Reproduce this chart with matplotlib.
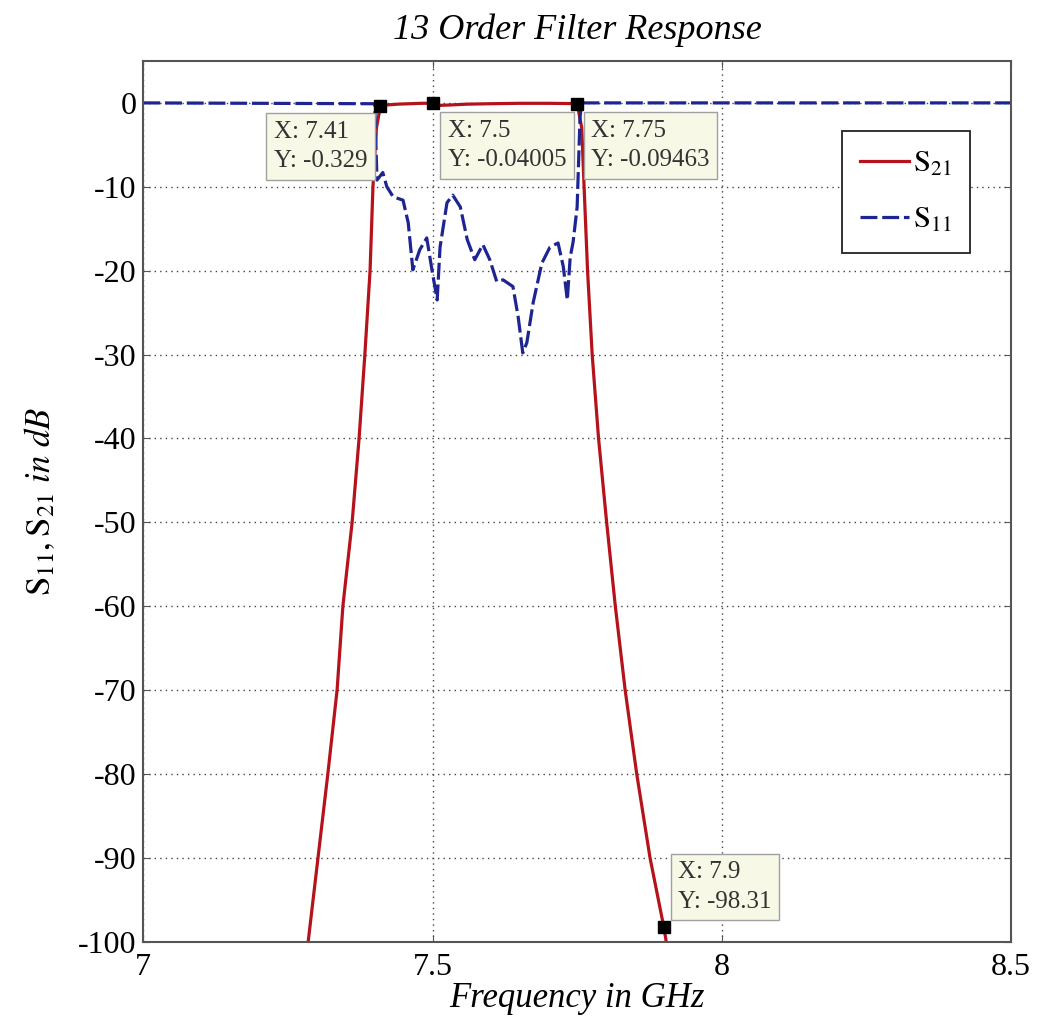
import numpy as np
import matplotlib
matplotlib.use('Agg')
import matplotlib.pyplot as plt

# S21 response (GHz, dB)
s21_freq = [7.285, 7.302, 7.319, 7.335, 7.345, 7.361, 7.373, 7.383, 7.392, 7.397, 7.403,
            7.41, 7.42, 7.44, 7.46, 7.48, 7.50, 7.51, 7.53, 7.56, 7.60, 7.65, 7.70, 7.74, 7.75,
            7.758, 7.762, 7.768, 7.776, 7.787, 7.801, 7.816, 7.833, 7.853, 7.876, 7.90, 7.904]
s21_db = [-100, -90, -80, -70, -60, -50, -40, -30, -20, -10, -3,
          -0.329, -0.25, -0.15, -0.10, -0.05, -0.04, -0.30, -0.25, -0.15, -0.10, -0.05, -0.05, -0.08, -0.0946,
          -3, -10, -20, -30, -40, -50, -60, -70, -80, -90, -98.31, -100]

# S11 response (GHz, dB)
s11_freq = [7.0, 7.40, 7.404, 7.414, 7.421, 7.432, 7.449, 7.458, 7.466, 7.478, 7.490, 7.499,
            7.508, 7.513, 7.525, 7.535, 7.548, 7.560, 7.573, 7.587, 7.599, 7.611, 7.622, 7.639,
            7.648, 7.656, 7.663, 7.674, 7.689, 7.703, 7.717, 7.726, 7.733, 7.738, 7.743, 7.750,
            7.755, 7.758, 8.5]
s11_db = [0, -0.1, -9.2, -8.3, -10.0, -11.2, -11.6, -14.3, -19.9, -17.5, -16.1, -19.9,
          -23.5, -17.2, -11.9, -11.0, -12.4, -16.3, -18.7, -16.9, -18.7, -21.3, -21.1, -21.9,
          -25.5, -29.8, -28.6, -23.8, -19.1, -17.2, -16.7, -19.5, -23.5, -18.4, -16.6, -12.4,
          -1.7, 0, 0]

# data tips
tip_x = [7.41, 7.5, 7.75, 7.9]
tip_y = [-0.329, -0.04005, -0.09463, -98.31]
tip_txt = ['X: 7.41\nY: -0.329', 'X: 7.5\nY: -0.04005', 'X: 7.75\nY: -0.09463', 'X: 7.9\nY: -98.31']

plt.rcParams['font.family'] = 'Liberation Serif'
plt.rcParams['mathtext.fontset'] = 'stix'
plt.rcParams['axes.unicode_minus'] = False

fig = plt.figure(figsize=(10.37, 10.21), dpi=100)
ax = fig.add_axes([0.1382, 0.0777, 0.8367, 0.8626])

ax.plot(s21_freq, s21_db, color='#B5121B', lw=2.3, label=r'$\mathrm{S}_{21}$')
ax.plot(s11_freq, s11_db, color='#1F2590', lw=2.3, dashes=(5.3, 1.5), label=r'$\mathrm{S}_{11}$')
ax.plot(tip_x, tip_y, 's', color='k', ms=8, zorder=7)

box = dict(boxstyle='square,pad=0.3', fc='#F8F8E6', ec='#A0A0A0', lw=1)
offs = [(-9.4, -10.9, 'right', 'top'), (10.9, -11.9, 'left', 'top'),
        (10.1, -11.6, 'left', 'top'), (10.4, 10.5, 'left', 'bottom')]
for x, y, t, (dx, dy, ha, va) in zip(tip_x, tip_y, tip_txt, offs):
    ax.annotate(t, (x, y), xytext=(dx, dy), textcoords='offset points', ha=ha, va=va,
                multialignment='left', fontsize=18, color='#333333', bbox=box,
                linespacing=1.45, zorder=6)

ax.set_xlim(7, 8.5)
ax.set_ylim(-100, 5)
ax.set_xticks([7, 7.5, 8, 8.5])
ax.set_xticklabels(['7', '7.5', '8', '8.5'])
ax.set_yticks(np.arange(-100, 1, 10))
ax.grid(True, linestyle=(0, (1, 3)), color='#444444', lw=1)
ax.tick_params(direction='in', top=True, right=True, labelsize=23, length=5, color='#555555')
ax.tick_params(axis='x', pad=8)
ax.tick_params(axis='y', pad=5)
for s in ax.spines.values():
    s.set_color('#555555')
    s.set_linewidth(1.5)

ax.set_title('13 Order Filter Response', fontsize=26, style='italic', pad=16)
ax.set_xlabel('Frequency in GHz', fontsize=25, style='italic', labelpad=0)
ax.set_ylabel(r'$\mathrm{S}_{\mathit{11}},\mathrm{S}_{\mathit{21}}\ \mathit{in\ dB}$', fontsize=25, labelpad=14)

leg = ax.legend(loc='upper right', bbox_to_anchor=(0.953, 0.9205), borderaxespad=0, fontsize=22,
                handlelength=1.6, fancybox=False, edgecolor='#222222', framealpha=1,
                borderpad=0.6, labelspacing=0.9, handletextpad=0.15)
leg.get_frame().set_linewidth(1.3)

fig.savefig('out.png', dpi=100)
